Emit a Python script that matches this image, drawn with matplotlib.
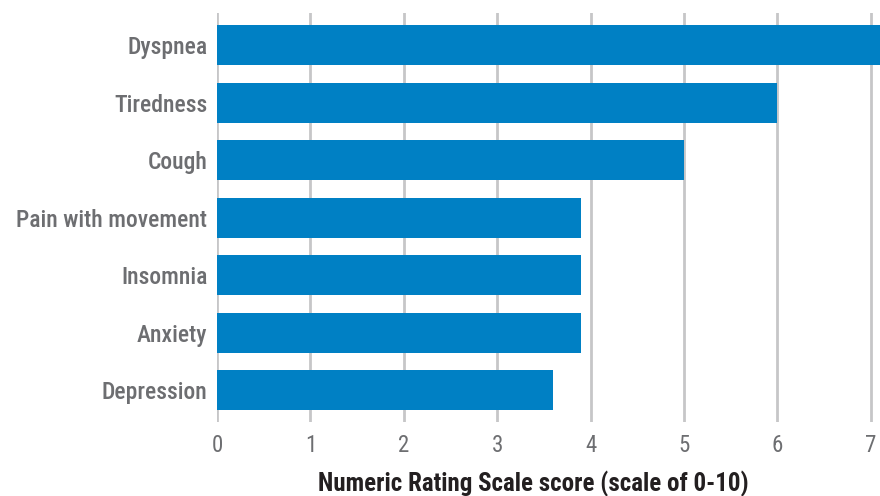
import matplotlib
matplotlib.use("Agg")
import matplotlib.pyplot as plt

categories = ["Dyspnea", "Tiredness", "Cough", "Pain with movement", "Insomnia", "Anxiety", "Depression"]
values = [7.2, 6.0, 5.0, 3.9, 3.9, 3.9, 3.6]
xticks = [0, 1, 2, 3, 4, 5, 6, 7]
xlabel = "Numeric Rating Scale score (scale of 0-10)"

fam = ["Roboto Condensed", "Archivo Narrow", "DejaVu Sans"]
gray = "#6d6e71"

fig = plt.figure(figsize=(8.8, 4.96), dpi=100)
ax = fig.add_axes([217/880, 1-421.7/496, 1-217/880, (421.7-12.7)/496])
ypos = list(range(len(categories)))
ax.barh(ypos, values, height=0.696, color="#0080c4", zorder=3)
ax.set_ylim(len(categories)-0.449, -0.562)
ax.set_xlim(0, 7.1)
ax.set_xticks(xticks)
ax.set_yticks(ypos)
ax.set_yticklabels(categories, fontfamily=fam, fontsize=17, color=gray, fontweight="medium")
ax.set_xticklabels([str(t) for t in xticks], fontfamily=fam, fontsize=16.5, color=gray)
ax.tick_params(axis="both", length=0)
ax.tick_params(axis="y", pad=7)
ax.tick_params(axis="x", pad=9)
ax.grid(axis="x", color="#c6c6c8", linewidth=2, zorder=0)
for s in ax.spines.values():
    s.set_visible(False)
fig.text(533/880, 1-484/496, xlabel, ha="center", va="center", fontfamily=fam,
         fontsize=18, fontweight="bold", color="#231f20")
fig.savefig("out.png", dpi=100)
